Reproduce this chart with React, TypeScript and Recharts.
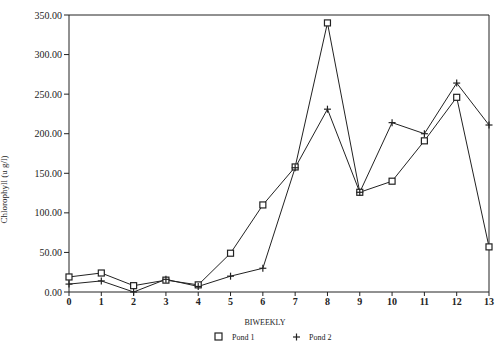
import React from "react";
import {
  LineChart,
  Line,
  XAxis,
  YAxis,
  ReferenceLine,
  Legend,
} from "recharts";

const weeks = [0, 1, 2, 3, 4, 5, 6, 7, 8, 9, 10, 11, 12, 13];
const pond1 = [19, 24, 8, 15, 9, 49, 110, 158, 340, 126, 140, 191, 246, 57];
const pond2 = [10, 14, 0, 16, 7, 20, 30, 157, 231, 126, 214, 200, 264, 211];
const yTicks = [0, 50, 100, 150, 200, 250, 300, 350];

const data = weeks.map((w, i) => ({ week: w, pond1: pond1[i], pond2: pond2[i] }));

const INK = "#222";
const FONT = "'Liberation Serif', serif";

const SquareDot = (props: any) => {
  const { cx, cy } = props;
  if (cx == null || cy == null) return null;
  return (
    <rect x={cx - 3} y={cy - 3} width={6} height={6} fill="#fff" stroke={INK} strokeWidth={1.2} />
  );
};

const PlusDot = (props: any) => {
  const { cx, cy } = props;
  if (cx == null || cy == null) return null;
  return (
    <g stroke={INK} strokeWidth={1.2}>
      <line x1={cx - 3.5} y1={cy} x2={cx + 3.5} y2={cy} />
      <line x1={cx} y1={cy - 3.5} x2={cx} y2={cy + 3.5} />
    </g>
  );
};

// legend drawn by hand so the square/plus symbols match the markers
const LegendContent = () => (
  <svg width={500} height={19} style={{ display: "block" }}>
    <rect x={215} y={9} width={7} height={7} fill="#fff" stroke={INK} strokeWidth={1.2} />
    <text x={232} y={15.5} fontSize={8} fill={INK} fontFamily={FONT}>Pond 1</text>
    <line x1={293} y1={13} x2={300} y2={13} stroke={INK} strokeWidth={1.2} />
    <line x1={296.5} y1={9.5} x2={296.5} y2={16.5} stroke={INK} strokeWidth={1.2} />
    <text x={309} y={15.5} fontSize={8} fill={INK} fontFamily={FONT}>Pond 2</text>
  </svg>
);

export default function App() {
  return (
    <div style={{ position: "absolute", left: 0, top: 0, width: 500, height: 343, background: "#fff" }}>
      <LineChart width={500} height={343} data={data} margin={{ top: 15, right: 11, left: 0, bottom: 0 }}>
        <XAxis
          dataKey="week"
          type="number"
          domain={[0, 13]}
          ticks={weeks}
          interval={0}
          height={32}
          stroke={INK}
          tickSize={4}
          tick={{ fontSize: 10, fontWeight: 700, fill: INK, fontFamily: FONT }}
          label={{ value: "BIWEEKLY", position: "insideBottom", offset: -1, dx: -14, fontSize: 8, fill: INK, fontFamily: FONT }}
        />
        <YAxis
          type="number"
          domain={[0, 350]}
          ticks={yTicks}
          width={69}
          stroke={INK}
          tickSize={5}
          tickFormatter={(v) => Number(v).toFixed(2)}
          tick={{ fontSize: 10, fill: INK, fontFamily: FONT }}
          label={{ value: "Chlorophyll (u g/l)", angle: -90, position: "insideLeft", offset: 4, fontSize: 9, fill: INK, fontFamily: FONT, dy: 70 }}
        />
        <ReferenceLine y={350} stroke={INK} />
        <ReferenceLine x={13} stroke={INK} />
        <Legend verticalAlign="bottom" height={19} wrapperStyle={{ left: 0, width: 500 }} content={<LegendContent />} />
        <Line
          type="linear"
          dataKey="pond1"
          stroke={INK}
          strokeWidth={1}
          dot={<SquareDot />}
          activeDot={false}
          isAnimationActive={false}
        />
        <Line
          type="linear"
          dataKey="pond2"
          stroke={INK}
          strokeWidth={1}
          dot={<PlusDot />}
          activeDot={false}
          isAnimationActive={false}
        />
      </LineChart>
    </div>
  );
}
